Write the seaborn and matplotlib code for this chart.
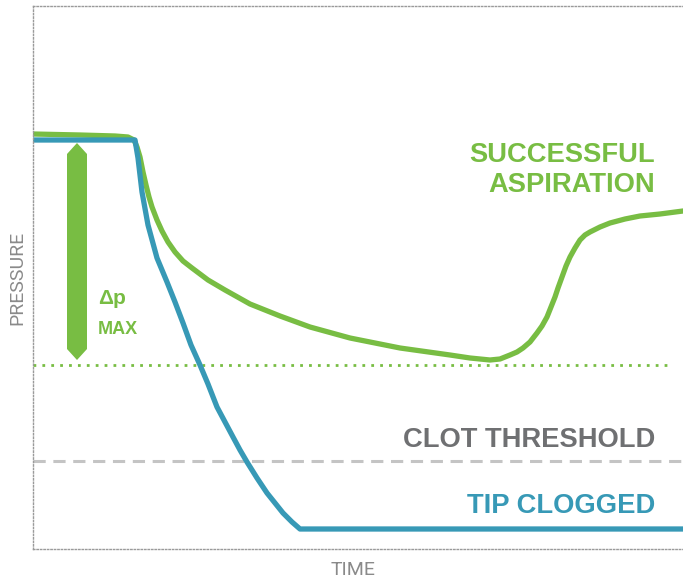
import numpy as np
import pandas as pd
import seaborn as sns
import matplotlib.pyplot as plt
from matplotlib.patches import Polygon

# curve data (time 0..650, pressure 0..543, arbitrary units)
t_clog = [0, 102, 105, 109, 115, 124, 134, 142, 150, 158, 167, 175, 184, 192, 200, 207,
          214, 224, 234, 242, 250, 259, 267, 650]
p_clog = [409, 409, 391, 357, 324, 291, 267, 247, 226, 204, 184, 165, 142, 127, 112, 99,
          87, 71, 56, 46, 36, 27, 20, 20]

t_ok = [0, 47, 82, 95, 101, 104, 107, 110, 113, 116, 119, 124, 129, 135, 142, 150, 159, 175,
        192, 217, 247, 277, 317, 367, 417, 437, 457, 467, 477, 484, 490, 497, 504, 509,
        514, 518, 522, 525, 529, 533, 537, 542, 547, 552, 557, 567, 577, 592, 607, 627, 650]
p_ok = [415, 414, 413, 412, 409, 402, 392, 377, 364, 352, 342, 329, 318, 307, 297, 288, 281, 269,
        259, 245, 233, 222, 211, 201, 194, 191, 189, 190, 194, 197, 201, 207, 216, 223,
        232, 242, 252, 261, 272, 283, 292, 301, 309, 314, 317, 322, 326, 330, 333, 335, 338]

p_max_level = 184      # dotted green line
clot_level = 88        # dashed threshold
dp_top, dp_bottom = 406, 189

GREEN = "#78bd43"
BLUE = "#3799b6"
GREY = "#6f7072"

sns.set_style("white")
plt.rcParams["font.family"] = ["Liberation Sans", "DejaVu Sans"]

fig = plt.figure(figsize=(6.83, 5.78), dpi=100)
ax = fig.add_axes([33 / 683, 29 / 578, 650 / 683, 543 / 578])

df_ok = pd.DataFrame({"time": t_ok, "pressure": p_ok})
df_clog = pd.DataFrame({"time": t_clog, "pressure": p_clog})

ax.axhline(p_max_level, xmax=0.977, color=GREEN, lw=2, ls=(0, (1, 2.2)))
ax.axhline(clot_level, color="#c4c4c4", lw=2.2, ls=(0, (4, 2.5)))

sns.lineplot(data=df_ok, x="time", y="pressure", color=GREEN, lw=3.8, sort=False, ax=ax)
sns.lineplot(data=df_clog, x="time", y="pressure", color=BLUE, lw=3.8, sort=False, ax=ax)

# delta-p double arrow
xc, hw, tip = 44, 10, 11
arrow = Polygon([[xc, dp_top], [xc + hw, dp_top - tip], [xc + hw, dp_bottom + tip],
                 [xc, dp_bottom], [xc - hw, dp_bottom + tip], [xc - hw, dp_top - tip]],
                closed=True, color=GREEN, lw=0)
ax.add_patch(arrow)

ax.text(65, 251, "Δp", color=GREEN, fontsize=15, fontweight="bold", va="center")
ax.text(65, 220, "MAX", color=GREEN, fontsize=13, fontweight="bold", va="center")

big = dict(fontsize=19.7, fontweight="bold", ha="right", va="center")
ax.text(622, 394, "SUCCESSFUL", color=GREEN, **big)
ax.text(622, 364, "ASPIRATION", color=GREEN, **big)
ax.text(622, 109, "CLOT THRESHOLD", color=GREY, **big)
ax.text(622, 43, "TIP CLOGGED", color=BLUE, **big)

ax.set_xlim(0, 650)
ax.set_ylim(0, 543)
ax.set_xticks([])
ax.set_yticks([])
lab = dict(color="#8a8a8a", fontsize=14, family=["Roboto", "DejaVu Sans"], fontweight="normal")
ax.set_xlabel("TIME", labelpad=7, **lab)
ax.set_ylabel("PRESSURE", labelpad=5, **lab)
ax.xaxis.set_label_coords(0.493, -0.022, transform=ax.transAxes)
ax.xaxis.label.set_va("top")

for side in ["left", "top", "bottom"]:
    ax.spines[side].set_linestyle((0, (1, 1.5)))
    ax.spines[side].set_color("#9a9a9a")
    ax.spines[side].set_linewidth(1.0)
ax.spines["right"].set_visible(False)

fig.savefig("out.png", dpi=100)
